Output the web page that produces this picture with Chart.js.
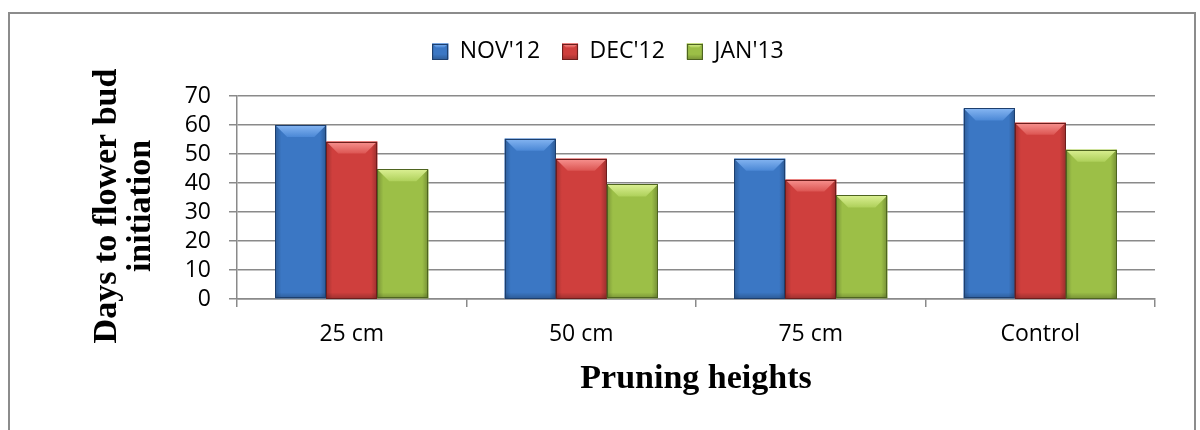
<!DOCTYPE html>
<html>
<head>
<meta charset="utf-8">
<script src="https://cdn.jsdelivr.net/npm/chart.js@4"></script>
<style>
  html, body { margin: 0; padding: 0; background: #fff; }
  #frame {
    position: absolute; left: 8px; top: 12px; width: 1184px; height: 440px;
    border: 2px solid #8c8c8c; border-bottom: none;
  }
  #chart { position: absolute; left: 0; top: 0; }
</style>
</head>
<body>
<div id="frame"></div>
<canvas id="chart" width="1200" height="430"></canvas>
<script>
// Pruning height treatments
const categories = ['25 cm', '50 cm', '75 cm', 'Control'];
// Days to flower bud initiation, by month of pruning
const nov12 = [60.0, 55.3, 48.4, 65.7];
const dec12 = [54.3, 48.4, 41.2, 60.8];
const jan13 = [44.7, 39.5, 35.7, 51.5];
const seriesNames = ["NOV'12", "DEC'12", "JAN'13"];
const yMin = 0, yMax = 70, yStep = 10;

// Fill, edge and bevel highlight colours per series
const palette = [
  { base: '#3b77c4', edge: '#1d3f6e', hiA: '#86b6f2', hiB: '#4b88d6' },
  { base: '#cf3f3d', edge: '#6e1d1c', hiA: '#f89491', hiB: '#dc5552' },
  { base: '#9cbf47', edge: '#4e6420', hiA: '#dbf093', hiB: '#aed05a' }
];

const GRID = '#8a8a8a';
const PAD_LEFT = 61;

// Office-style bevel: lighter top facet, shaded sides and bottom, dark outline
function bevelRect(ctx, l, t, r, b, pal, depth) {
  const d = Math.min(depth, (b - t) / 2, (r - l) / 2);
  ctx.save();
  ctx.fillStyle = pal.base;
  ctx.fillRect(l, t, r - l, b - t);
  // side shading
  const hg = ctx.createLinearGradient(l, 0, r, 0);
  hg.addColorStop(0, 'rgba(0,0,0,0.22)');
  hg.addColorStop(0.12, 'rgba(0,0,0,0.0)');
  hg.addColorStop(0.88, 'rgba(0,0,0,0.0)');
  hg.addColorStop(1, 'rgba(0,0,0,0.25)');
  ctx.fillStyle = hg;
  ctx.fillRect(l, t, r - l, b - t);
  // bottom shading
  const bh = Math.min(6, (b - t) / 3);
  const vg = ctx.createLinearGradient(0, b - bh, 0, b);
  vg.addColorStop(0, 'rgba(0,0,0,0)');
  vg.addColorStop(1, 'rgba(0,0,0,0.22)');
  ctx.fillStyle = vg;
  ctx.fillRect(l, b - bh, r - l, bh);
  // top facet
  ctx.beginPath();
  ctx.moveTo(l, t); ctx.lineTo(r, t); ctx.lineTo(r - d, t + d); ctx.lineTo(l + d, t + d);
  ctx.closePath();
  const tg = ctx.createLinearGradient(0, t, 0, t + d);
  tg.addColorStop(0, pal.hiA);
  tg.addColorStop(1, pal.hiB);
  ctx.fillStyle = tg;
  ctx.fill();
  // outline
  ctx.strokeStyle = pal.edge;
  ctx.lineWidth = 1;
  ctx.strokeRect(Math.round(l) + 0.5, Math.round(t) + 0.5, Math.round(r - l) - 1, Math.round(b - t) - 1);
  ctx.restore();
}

const bevelPlugin = {
  id: 'bevel',
  afterDatasetsDraw(chart) {
    const ctx = chart.ctx;
    chart.data.datasets.forEach((ds, i) => {
      const meta = chart.getDatasetMeta(i);
      if (meta.hidden) return;
      meta.data.forEach(bar => {
        const p = bar.getProps(['x', 'y', 'base', 'width'], true);
        bevelRect(ctx, p.x - p.width / 2, p.y, p.x + p.width / 2, p.base, palette[i], 12);
      });
    });
  },
  afterDraw(chart) {
    const lg = chart.legend;
    if (!lg || !lg.legendHitBoxes) return;
    const opts = lg.options.labels;
    const fs = opts.font.size;
    lg.legendHitBoxes.forEach((hb, i) => {
      const top = hb.top + Math.max((fs - opts.boxHeight) / 2, 0);
      bevelRect(chart.ctx, hb.left, top, hb.left + opts.boxWidth, top + opts.boxHeight, palette[i], 4);
    });
  }
};

const tickFont = { family: '"Open Sans", "Liberation Sans", sans-serif', size: 23 };
const titleFont = { family: '"Liberation Serif", "Times New Roman", serif', size: 34, weight: 'bold', lineHeight: 1.0 };

const seriesValues = [nov12, dec12, jan13];

new Chart(document.getElementById('chart'), {
  type: 'bar',
  data: {
    labels: categories,
    datasets: seriesValues.map((vals, i) => ({
      label: seriesNames[i],
      data: vals,
      backgroundColor: palette[i].base,
      borderColor: palette[i].edge,
      borderWidth: 0,
      categoryPercentage: 0.667,
      barPercentage: 1.0
    }))
  },
  options: {
    responsive: false,
    animation: false,
    devicePixelRatio: 1,
    layout: { padding: { left: PAD_LEFT, right: 45, top: 18, bottom: 0 } },
    plugins: {
      legend: {
        position: 'top',
        weight: 2000,
        labels: {
          boxWidth: 16,
          boxHeight: 16,
          padding: 22,
          color: '#000',
          font: tickFont
        }
      },
      subtitle: {
        display: true,
        text: ' ',
        padding: 0,
        weight: 1500,
        font: { size: 23, lineHeight: 1.0 }
      },
      tooltip: { enabled: false }
    },
    scales: {
      x: {
        offset: true,
        afterFit(scale) { scale.height = 131; },
        grid: {
          offset: true,
          drawOnChartArea: false,
          drawTicks: true,
          tickLength: 8,
          color: GRID,
          lineWidth: 1.5
        },
        border: { color: GRID, width: 1.5 },
        ticks: { color: '#000', font: tickFont, padding: 14, maxRotation: 0, autoSkip: false },
        title: {
          display: true,
          text: 'Pruning heights',
          color: '#000',
          font: titleFont,
          padding: { top: 0, bottom: 34 }
        }
      },
      y: {
        min: yMin,
        max: yMax,
        afterFit(scale) { scale.width = 237 - PAD_LEFT; },
        grid: {
          color: GRID,
          lineWidth: 1.5,
          drawTicks: true,
          tickLength: 8
        },
        border: { color: GRID, width: 1.5 },
        ticks: { color: '#000', font: tickFont, padding: 18, stepSize: yStep, autoSkip: false },
        title: {
          display: true,
          text: ['Days to flower bud  ', 'initiation  '],
          color: '#000',
          font: titleFont,
          padding: { top: 29, bottom: 0 }
        }
      }
    }
  },
  plugins: [bevelPlugin]
});
</script>
</body>
</html>
